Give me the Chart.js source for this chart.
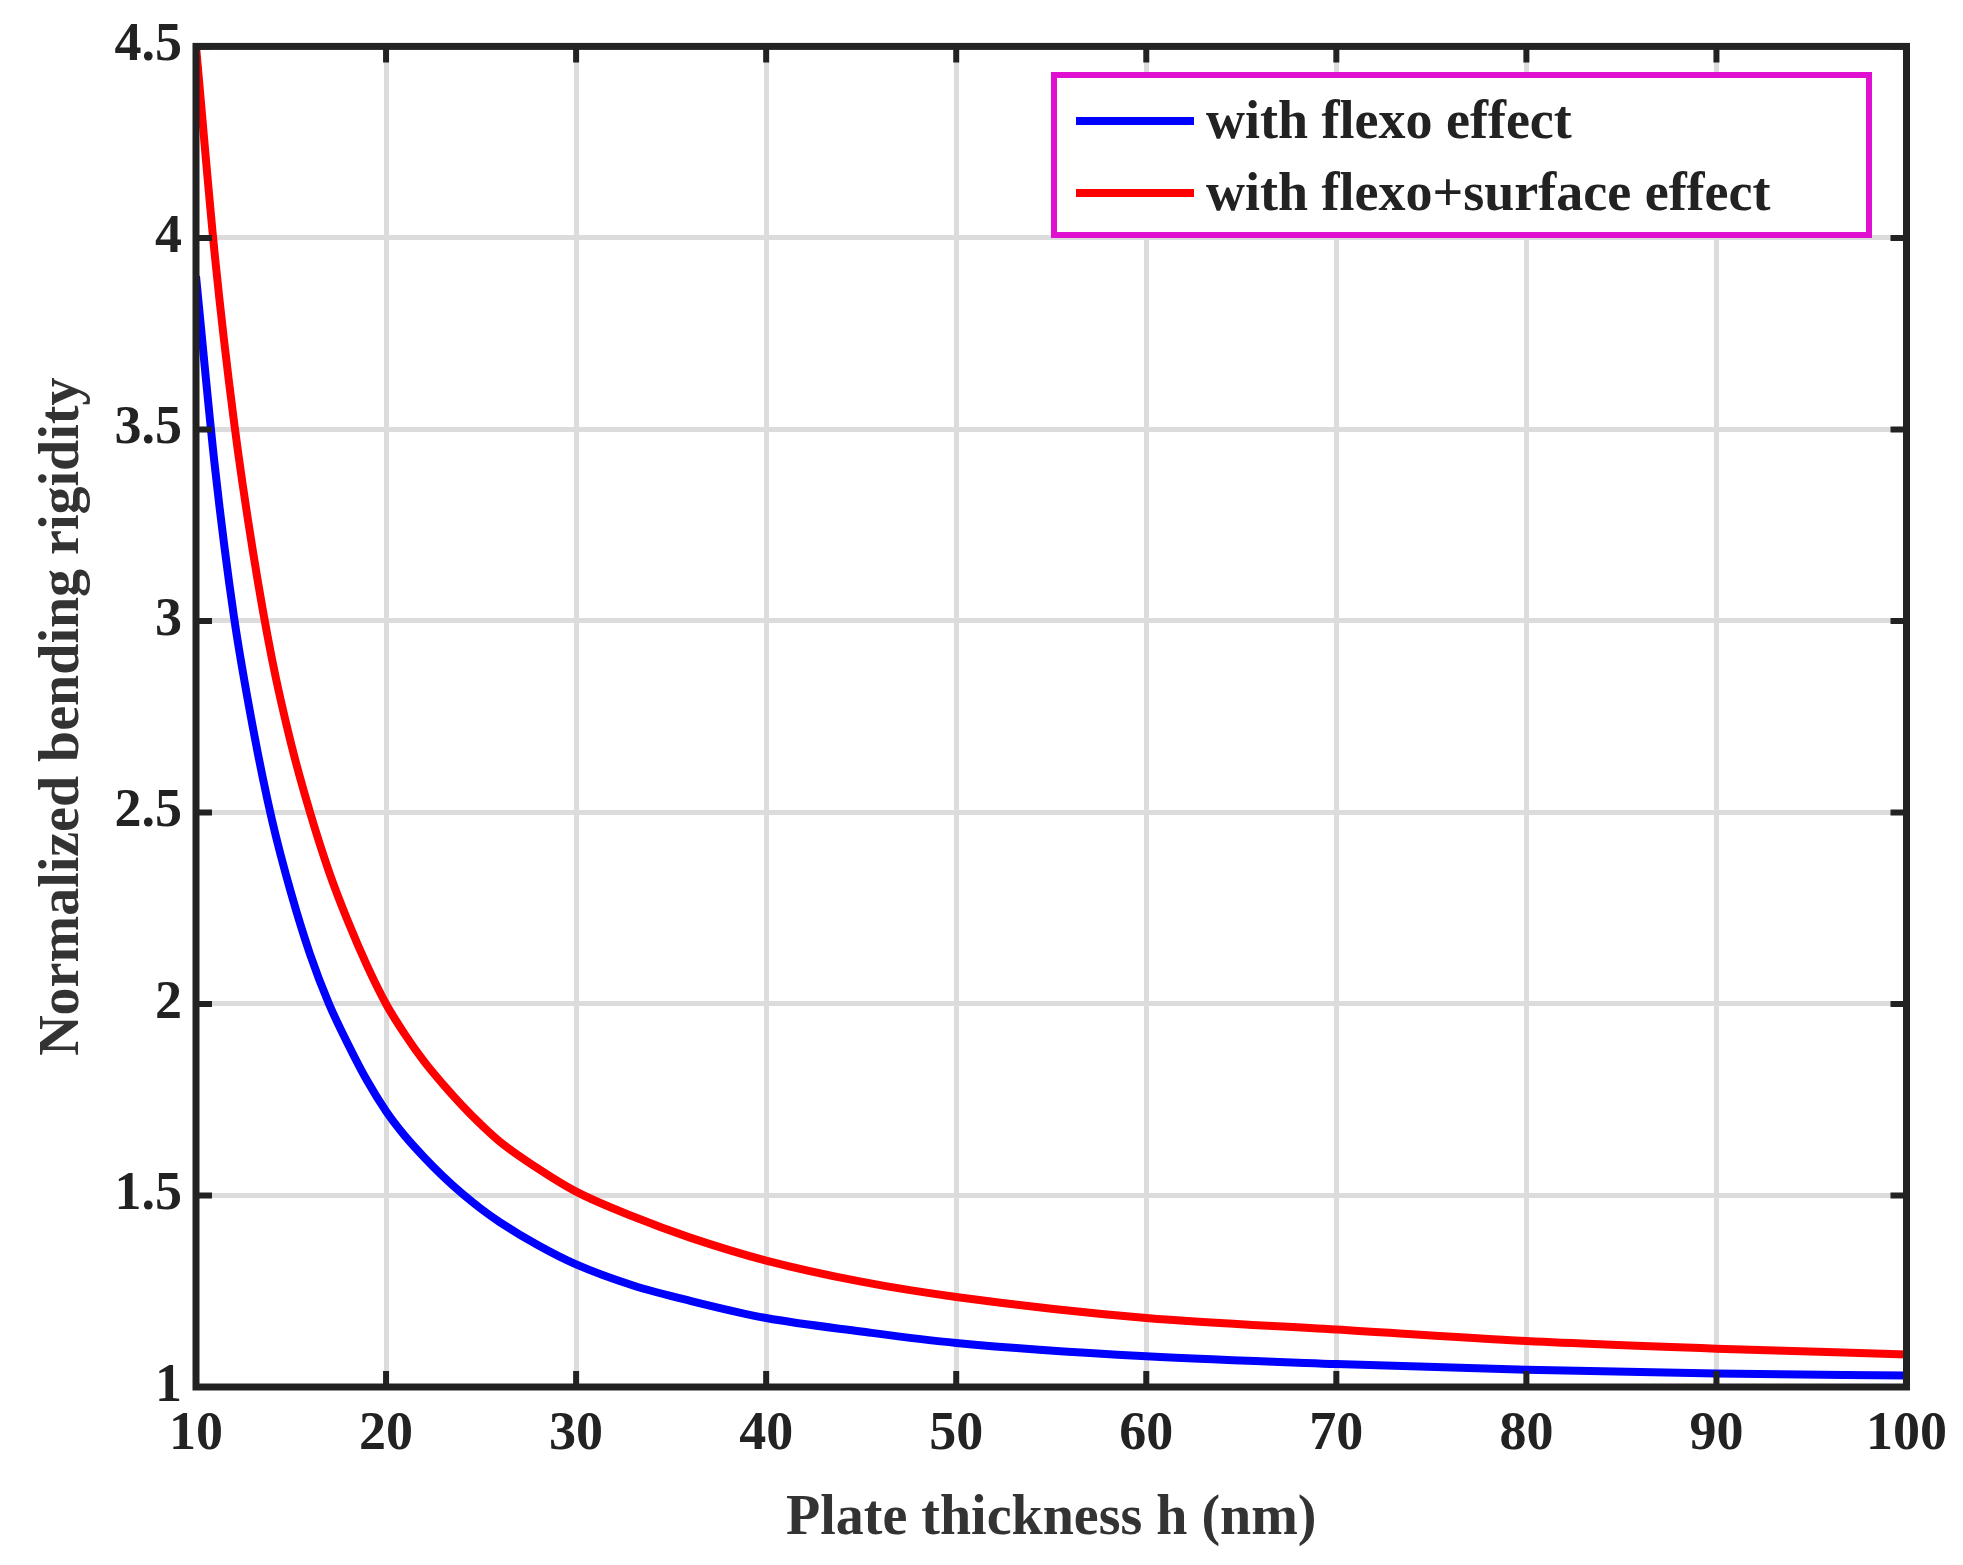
<!DOCTYPE html>
<html>
<head>
<meta charset="utf-8">
<script src="https://cdn.jsdelivr.net/npm/chart.js@4/dist/chart.umd.min.js"></script>
<style>
  html, body { margin: 0; padding: 0; background: #fff; }
  #wrap { width: 1963px; height: 1565px; }
</style>
</head>
<body>
<div id="wrap"><canvas id="rigidityChart"></canvas></div>
<script>
// values
const thickness = [10, 11, 12, 13, 14, 15, 16, 17, 18, 19, 20, 21, 22, 23, 24, 25, 26, 28, 30, 33, 36, 40, 45, 50, 60, 70, 80, 90, 100];
const flexo = [3.9, 3.40, 3.01, 2.72, 2.48, 2.29, 2.13, 2.00, 1.895, 1.80, 1.72, 1.655, 1.60, 1.55, 1.505, 1.465, 1.43, 1.37, 1.32, 1.265, 1.225, 1.18, 1.145, 1.115, 1.08, 1.06, 1.045, 1.035, 1.03];
const flexoSurface = [4.5, 3.95, 3.52, 3.18, 2.90, 2.68, 2.50, 2.345, 2.215, 2.10, 2.00, 1.92, 1.85, 1.79, 1.735, 1.685, 1.64, 1.57, 1.51, 1.445, 1.39, 1.33, 1.275, 1.235, 1.18, 1.15, 1.12, 1.10, 1.085];
const xTicks = [10, 20, 30, 40, 50, 60, 70, 80, 90, 100];
const yTicks = [1, 1.5, 2, 2.5, 3, 3.5, 4, 4.5];

const FONT = "'Liberation Serif', 'Times New Roman', serif";
const ink = '#222';

function toPoints(ys) {
    return thickness.map((h, i) => ({ x: h, y: ys[i] }));
}

// frame, inward ticks and legend box
const framePlugin = {
    id: 'frame',
    afterDatasetsDraw(chart) {
        const { ctx, chartArea: a, scales } = chart;
        ctx.save();
        ctx.strokeStyle = ink;
        ctx.lineWidth = 7;
        ctx.strokeRect(a.left, a.top, a.right - a.left, a.bottom - a.top);
        ctx.lineWidth = 6;
        const len = 16;
        xTicks.forEach(v => {
            const x = scales.x.getPixelForValue(v);
            ctx.beginPath();
            ctx.moveTo(x, a.bottom); ctx.lineTo(x, a.bottom - len);
            ctx.moveTo(x, a.top); ctx.lineTo(x, a.top + len);
            ctx.stroke();
        });
        yTicks.forEach(v => {
            const y = scales.y.getPixelForValue(v);
            ctx.beginPath();
            ctx.moveTo(a.left, y); ctx.lineTo(a.left + len, y);
            ctx.moveTo(a.right, y); ctx.lineTo(a.right - len, y);
            ctx.stroke();
        });

        // legend
        const bx = 1054, by = 75, bw = 815, bh = 160;
        ctx.fillStyle = '#fff';
        ctx.fillRect(bx, by, bw, bh);
        ctx.strokeStyle = '#e010d0';
        ctx.lineWidth = 6;
        ctx.strokeRect(bx, by, bw, bh);
        ctx.font = `bold 54px ${FONT}`;
        ctx.textBaseline = 'middle';
        chart.data.datasets.forEach((ds, i) => {
            const y = by + 46 + i * 72;
            ctx.strokeStyle = ds.borderColor;
            ctx.lineWidth = 8;
            ctx.beginPath();
            ctx.moveTo(bx + 22, y); ctx.lineTo(bx + 140, y);
            ctx.stroke();
            ctx.fillStyle = ink;
            ctx.fillText(ds.label, bx + 152, y + 3);
        });
        ctx.restore();
    }
};

new Chart(document.getElementById('rigidityChart'), {
    type: 'line',
    data: {
        datasets: [
            { label: 'with flexo effect', data: toPoints(flexo), borderColor: '#0000ff', borderWidth: 8, pointRadius: 0, cubicInterpolationMode: 'monotone' },
            { label: 'with flexo+surface effect', data: toPoints(flexoSurface), borderColor: '#ff0000', borderWidth: 8, pointRadius: 0, cubicInterpolationMode: 'monotone' }
        ]
    },
    options: {
        responsive: true,
        maintainAspectRatio: false,
        animation: false,
        devicePixelRatio: 1,
        layout: { padding: { top: 38, right: 53, left: 26, bottom: 0 } },
        plugins: { legend: { display: false }, tooltip: { enabled: false } },
        scales: {
            x: {
                type: 'linear', min: 10, max: 100,
                afterBuildTicks: s => { s.ticks = xTicks.map(v => ({ value: v })); },
                afterFit: s => { s.height = 178; },
                grid: { color: '#dcdcdc', lineWidth: 5, drawTicks: false },
                border: { display: false },
                ticks: { color: ink, padding: 16, font: { family: FONT, size: 54, weight: 'bold' }, callback: v => String(v) },
                title: { display: true, text: 'Plate thickness h (nm)', color: '#333', padding: { top: 0, bottom: 12 }, font: { family: FONT, size: 56, weight: 'bold' } }
            },
            y: {
                type: 'linear', min: 1, max: 4.5,
                afterBuildTicks: s => { s.ticks = yTicks.map(v => ({ value: v })); },
                afterFit: s => { s.width = 170; },
                grid: { color: '#dcdcdc', lineWidth: 5, drawTicks: false },
                border: { display: false },
                ticks: { color: ink, padding: 14, font: { family: FONT, size: 54, weight: 'bold' }, callback: v => String(v) },
                title: { display: true, text: 'Normalized bending rigidity', color: '#333', padding: { bottom: 0 }, font: { family: FONT, size: 56, weight: 'bold' } }
            }
        }
    },
    plugins: [framePlugin]
});
</script>
</body>
</html>
